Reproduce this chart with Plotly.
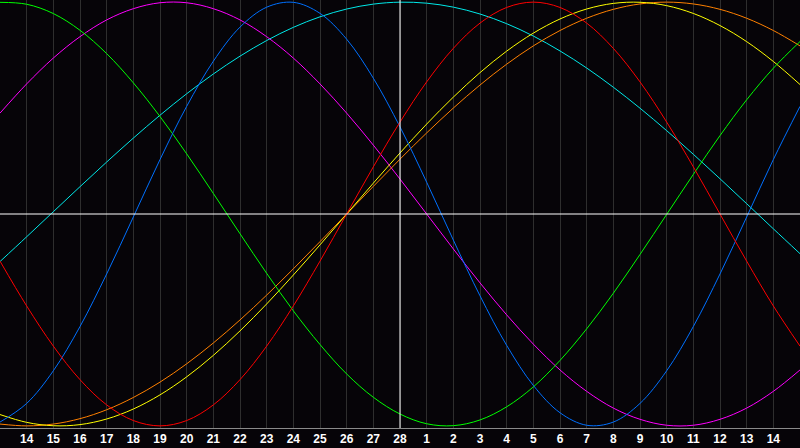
import plotly.graph_objects as go

# Day labels along the bottom (positions 1..29); positions 0 and 30 are the edges (13 and 15)
day_labels = [14, 15, 16, 17, 18, 19, 20, 21, 22, 23, 24, 25, 26, 27, 28,
              1, 2, 3, 4, 5, 6, 7, 8, 9, 10, 11, 12, 13, 14]
days = list(range(31))  # day positions 0..30 (13th .. 15th)
today_pos = 15

# Cycle values, one per day position 0..30
blue = [-0.982, -0.894, -0.740, -0.531, -0.283, -0.014, 0.257, 0.508, 0.721, 0.882,
        0.976, 0.999, 0.947, 0.825, 0.641, 0.411, 0.150, -0.123, -0.386, -0.620,
        -0.809, -0.938, -0.997, -0.982, -0.894, -0.740, -0.531, -0.283, -0.014, 0.257, 0.508]
red = [-0.2225, -0.4339, -0.6235, -0.7818, -0.9010, -0.9749, -1.0, -0.9749, -0.9010, -0.7818,
       -0.6235, -0.4339, -0.2225, 0.0, 0.2225, 0.4339, 0.6235, 0.7818, 0.9010, 0.9749,
       1.0, 0.9749, 0.9010, 0.7818, 0.6235, 0.4339, 0.2225, 0.0, -0.2225, -0.4339, -0.6235]
green = [0.999, 0.990, 0.946, 0.867, 0.757, 0.619, 0.460, 0.284, 0.097, -0.093,
         -0.280, -0.457, -0.616, -0.755, -0.865, -0.944, -0.990, -0.999, -0.972, -0.910,
         -0.816, -0.691, -0.542, -0.374, -0.191, -0.002, 0.187, 0.370, 0.539, 0.688, 0.814]
magenta = [0.476, 0.614, 0.736, 0.837, 0.916, 0.969, 0.997, 0.997, 0.969, 0.916,
           0.837, 0.736, 0.614, 0.476, 0.325, 0.165, 0.0, -0.165, -0.325, -0.476,
           -0.614, -0.736, -0.837, -0.916, -0.969, -0.997, -0.997, -0.969, -0.916, -0.837, -0.736]
yellow = [-0.9465, -0.9834, -0.9993, -0.9940, -0.9675, -0.9204, -0.8536, -0.7687, -0.6673, -0.5517,
          -0.4245, -0.2881, -0.1456, 0.0, 0.1456, 0.2881, 0.4245, 0.5517, 0.6673, 0.7687,
          0.8536, 0.9204, 0.9675, 0.9940, 0.9993, 0.9834, 0.9465, 0.8893, 0.8135, 0.7199, 0.6111]
orange = [-0.9914, -1.0, -0.9914, -0.9659, -0.9239, -0.8660, -0.7934, -0.7071, -0.6088, -0.5,
          -0.3827, -0.2588, -0.1305, 0.0, 0.1305, 0.2588, 0.3827, 0.5, 0.6088, 0.7071,
          0.7934, 0.8660, 0.9239, 0.9659, 0.9914, 1.0, 0.9914, 0.9659, 0.9239, 0.8660, 0.7934]
cyan = [-0.2244, -0.1075, 0.0108, 0.129, 0.2453, 0.3582, 0.4662, 0.5675, 0.6608, 0.7449,
        0.8187, 0.8809, 0.9307, 0.9674, 0.9906, 0.9998, 0.9950, 0.9763, 0.9439, 0.8982,
        0.8399, 0.7696, 0.6890, 0.5983, 0.4994, 0.3934, 0.2818, 0.1664, 0.0487, -0.0698, -0.1872]

series = [
    ("Cyan", cyan, "#00e8e8"),
    ("Magenta", magenta, "#ff00ff"),
    ("Orange", orange, "#ff8000"),
    ("Yellow", yellow, "#ffff00"),
    ("Green", green, "#00ff00"),
    ("Blue", blue, "#0070ff"),
    ("Red", red, "#ff0000"),
]

fig = go.Figure()
for name, vals, col in series:
    fig.add_trace(go.Scatter(
        x=days, y=vals, mode="lines", name=name,
        line=dict(color=col, width=1, shape="spline", smoothing=1.0),
        hoverinfo="skip",
    ))

tick_pos = list(range(1, 1 + len(day_labels)))

fig.update_layout(
    width=800, height=448,
    margin=dict(l=0, r=0, t=0, b=20, autoexpand=False),
    paper_bgcolor="#060408",
    plot_bgcolor="#060408",
    showlegend=False,
    xaxis=dict(
        range=[0, 30],
        tickvals=tick_pos,
        ticktext=[str(d) for d in day_labels],
        showgrid=True, gridcolor="#2e2e2e", gridwidth=1,
        zeroline=False,
        showline=True, mirror=True, linecolor="#8a8a8a", linewidth=1,
        ticks="",
        tickfont=dict(family="Liberation Sans", size=12, color="white", weight="bold"),
        automargin=False,
        fixedrange=True,
    ),
    yaxis=dict(
        range=[-1.01, 1.01],
        showgrid=False, zeroline=False,
        showticklabels=False,
        showline=True, mirror=True, linecolor="#8a8a8a", linewidth=1,
        automargin=False,
        fixedrange=True,
    ),
    shapes=[
        dict(type="line", xref="x", yref="paper", x0=today_pos, x1=today_pos, y0=0, y1=1,
             line=dict(color="white", width=1), layer="above"),
        dict(type="line", xref="paper", yref="y", x0=0, x1=1, y0=0, y1=0,
             line=dict(color="white", width=1), layer="above"),
    ],
)

fig.write_html(
    "out.html",
    config={"displayModeBar": False},
    post_script="document.body.style.margin='0';document.body.style.padding='0';document.body.style.background='#060408';",
)
